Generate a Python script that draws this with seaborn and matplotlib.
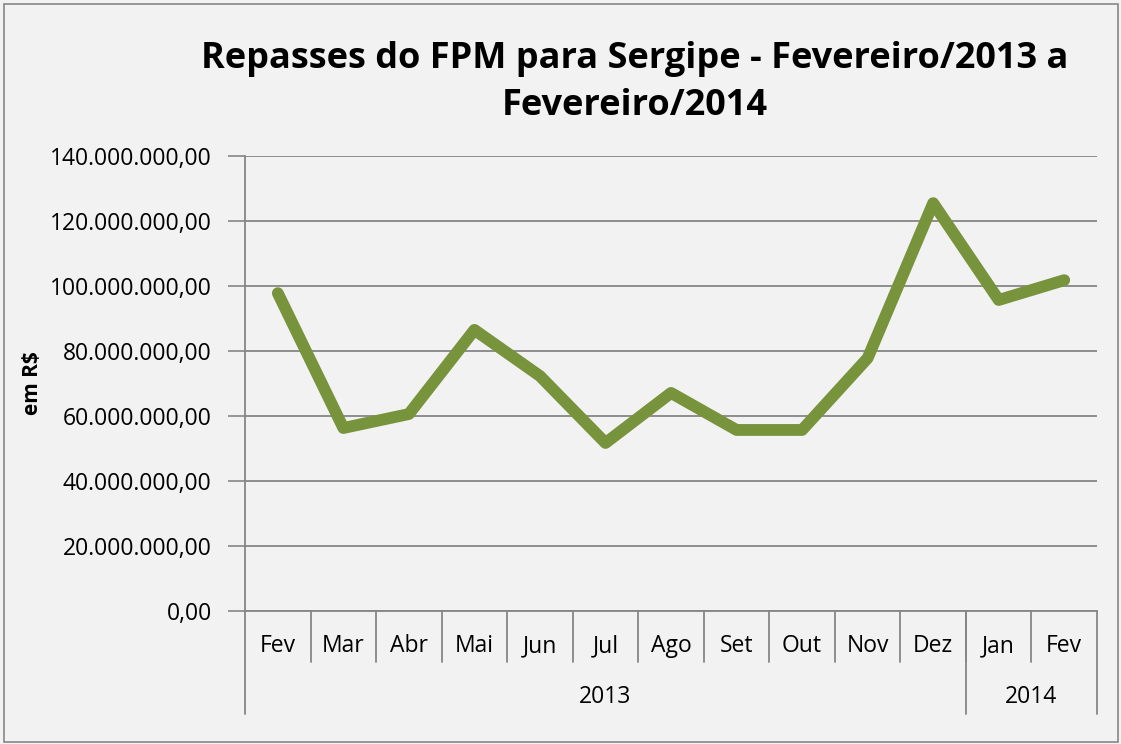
import matplotlib
matplotlib.use("Agg")
import matplotlib.pyplot as plt
import matplotlib.transforms as mtransforms
from matplotlib.ticker import FuncFormatter, MultipleLocator
import pandas as pd
import seaborn as sns

months = ["Fev", "Mar", "Abr", "Mai", "Jun", "Jul", "Ago", "Set", "Out", "Nov", "Dez", "Jan", "Fev"]
years = ["2013"] * 11 + ["2014"] * 2
repasses = [97.8e6, 56.3e6, 60.6e6, 86.5e6, 72.3e6, 51.7e6, 67.1e6,
            55.7e6, 55.7e6, 77.8e6, 125.5e6, 95.7e6, 101.8e6]

BG = "#F2F2F2"
GRID = "#868686"
LINE = "#77933C"

sns.set_theme(style="white")
plt.rcParams["font.family"] = ["Open Sans", "DejaVu Sans"]
plt.rcParams["text.color"] = "black"
plt.rcParams["axes.labelcolor"] = "black"
plt.rcParams["ytick.labelcolor"] = "black"

df = pd.DataFrame({"pos": range(len(months)), "valor": repasses})

fig = plt.figure(figsize=(11.21, 7.44), dpi=100, facecolor=BG)
ax = fig.add_axes([0.2186, 0.1788, 0.76, 0.6115], facecolor=BG)

sns.lineplot(data=df, x="pos", y="valor", ax=ax, color=LINE, linewidth=8.5,
             solid_capstyle="round", solid_joinstyle="round")

ax.set_xlim(-0.5, len(months) - 0.5)
ax.set_ylim(0, 140e6)
ax.yaxis.set_major_locator(MultipleLocator(20e6))


def br_fmt(v, _):
    s = f"{v:,.2f}"
    return s.replace(",", "X").replace(".", ",").replace("X", ".")


ax.yaxis.set_major_formatter(FuncFormatter(br_fmt))
ax.tick_params(axis="y", labelsize=16.5, length=12, color=GRID, width=1.2, pad=12, left=True)
ax.set_xticks([])
ax.set_xlabel("")
ax.grid(axis="y", color=GRID, linewidth=1.3)
for side in ["top", "right"]:
    ax.spines[side].set_visible(False)
for side in ["left", "bottom"]:
    ax.spines[side].set_color(GRID)
    ax.spines[side].set_linewidth(1.3)

# multi-level category axis
trans = mtransforms.blended_transform_factory(ax.transData, ax.transAxes)
for i, m in enumerate(months):
    ax.text(i, -0.077, m, transform=trans, ha="center", va="center", fontsize=16.5)
for i in range(1, len(months)):
    ax.plot([i - 0.5, i - 0.5], [0, -0.112], transform=trans, color=GRID,
            linewidth=1.3, clip_on=False)
year_edges = [-0.5]
for i in range(1, len(years)):
    if years[i] != years[i - 1]:
        year_edges.append(i - 0.5)
year_edges.append(len(years) - 0.5)
for e in year_edges:
    ax.plot([e, e], [0, -0.226], transform=trans, color=GRID, linewidth=1.3, clip_on=False)
for a, b in zip(year_edges[:-1], year_edges[1:]):
    ax.text((a + b) / 2, -0.19, years[int(a + 0.5)], transform=trans,
            ha="center", va="center", fontsize=16.5)

ax.set_ylabel("em R$", fontsize=15, fontweight="bold")
ax.yaxis.set_label_coords(-0.237, 0.5, transform=ax.transAxes)

fig.text(0.566, 0.889, "Repasses do FPM para Sergipe - Fevereiro/2013 a\nFevereiro/2014",
         ha="center", va="center", fontsize=26, fontweight="bold", linespacing=1.4)

fig.patches.append(plt.Rectangle((0.004, 0.003), 0.993, 0.992, transform=fig.transFigure,
                                 fill=False, edgecolor=GRID, linewidth=1.2))

fig.savefig("out.png", dpi=100, facecolor=BG)
